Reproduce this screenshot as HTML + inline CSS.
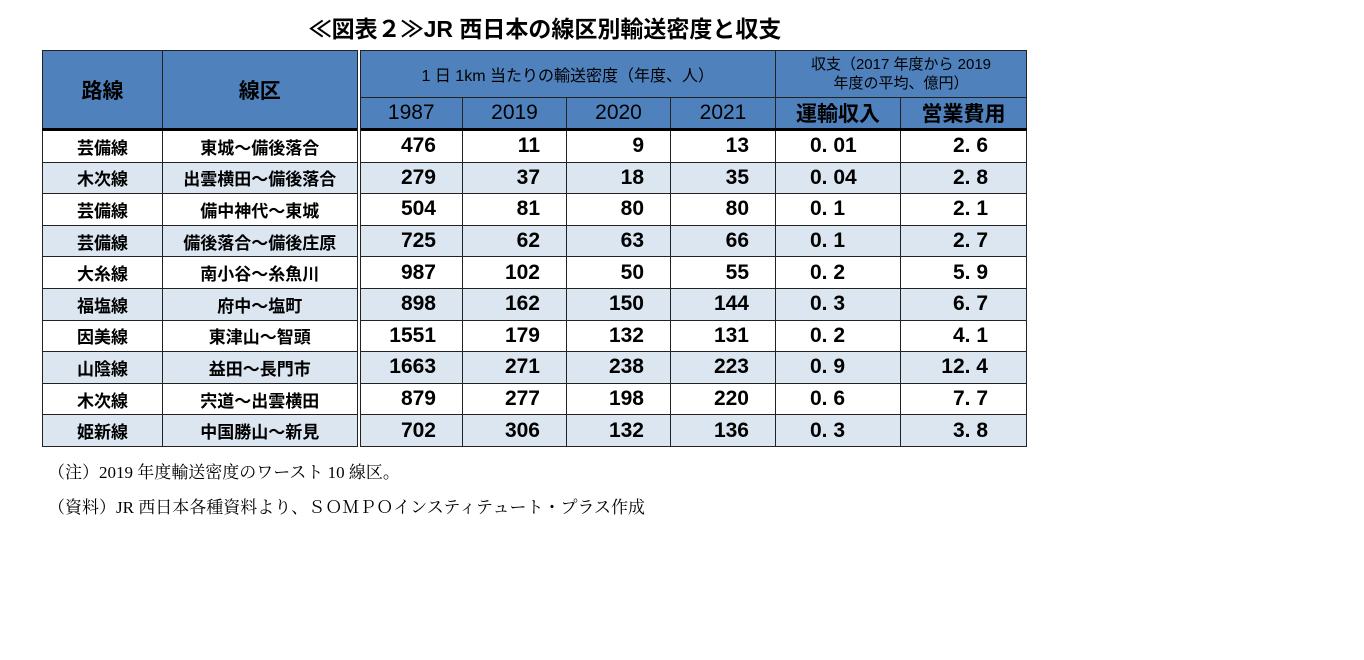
<!DOCTYPE html>
<html><head><meta charset="utf-8">
<style>
body{margin:0;width:1364px;height:660px;background:#fff;position:relative;overflow:hidden;font-family:"Liberation Sans","Noto Sans CJK JP",sans-serif;}
.title{position:absolute;left:0;width:1090px;top:10px;text-align:center;font-size:23px;font-weight:bold;color:#000;}
table{position:absolute;left:42px;top:50px;border-collapse:collapse;table-layout:fixed;}
td{border:1px solid #222;padding:0;font-weight:bold;color:#000;text-align:center;overflow:hidden;white-space:nowrap;}
thead td{background:#4f81bd;}
.h1 td{height:46px;}
.h2 td{height:30px;font-size:21px;}
.big{font-size:21px;}
.sm{font-size:15px;font-weight:normal;line-height:19px;}
tbody td{height:30.6px;font-size:17px;}
tbody tr:first-child td{border-top:3px solid #000;}
tbody tr:nth-child(even) td{background:#dce6f1;}
.n{font-size:21px;text-align:right;padding-right:26px;}
.r{font-size:21px;text-align:center;}
.dbl{border-left:4px double #222;}
.note{position:absolute;left:48px;font-family:"Liberation Serif","Noto Serif CJK SC",serif;font-size:17px;color:#000;}
</style></head><body>
<div class="title">≪図表２≫JR 西日本の線区別輸送密度と収支</div>
<table>
<colgroup><col style="width:120px"><col style="width:196px"><col style="width:104px"><col style="width:104px"><col style="width:104px"><col style="width:105px"><col style="width:125px"><col style="width:126px"></colgroup>
<thead>
<tr class="h1">
<td rowspan="2" class="big">路線</td>
<td rowspan="2" class="big">線区</td>
<td colspan="4" class="dbl" style="font-size:16px;font-weight:normal">1 日 1km 当たりの輸送密度（年度、人）</td>
<td colspan="2" class="sm">収支（2017 年度から 2019<br>年度の平均、億円）</td>
</tr>
<tr class="h2">
<td class="dbl" style="font-weight:normal">1987</td>
<td style="font-weight:normal">2019</td>
<td style="font-weight:normal">2020</td>
<td style="font-weight:normal">2021</td>
<td>運輸収入</td>
<td>営業費用</td>
</tr>
</thead>
<tbody id="tb"></tbody>
</table>
<div class="note" style="top:458px">（注）2019 年度輸送密度のワースト 10 線区。</div>
<div class="note" style="top:493px">（資料）JR 西日本各種資料より、ＳＯＭＰＯインスティテュート・プラス作成</div>
<script>
const routes=["芸備線","木次線","芸備線","芸備線","大糸線","福塩線","因美線","山陰線","木次線","姫新線"];
const sections=["東城～備後落合","出雲横田～備後落合","備中神代～東城","備後落合～備後庄原","南小谷～糸魚川","府中～塩町","東津山～智頭","益田～長門市","宍道～出雲横田","中国勝山～新見"];
const d1987=[476,279,504,725,987,898,1551,1663,879,702];
const d2019=[11,37,81,62,102,162,179,271,277,306];
const d2020=[9,18,80,63,50,150,132,238,198,132];
const d2021=[13,35,80,66,55,144,131,223,220,136];
const revenue=["0.01","0.04","0.1","0.1","0.2","0.3","0.2","0.9","0.6","0.3"];
const expense=["2.6","2.8","2.1","2.7","5.9","6.7","4.1","12.4","7.7","3.8"];
const tb=document.getElementById('tb');
function cell(tr,txt,cls,name){const td=document.createElement('td');td.textContent=txt;if(cls)td.className=cls;


tr.appendChild(td);return td;}
for(let i=0;i<routes.length;i++){
const tr=document.createElement('tr');


cell(tr,routes[i],'','route-cell');
cell(tr,sections[i],'','section-cell');
cell(tr,d1987[i],'n dbl','density-1987');
cell(tr,d2019[i],'n','density-2019');
cell(tr,d2020[i],'n','density-2020');
cell(tr,d2021[i],'n','density-2021');
const r=cell(tr,revenue[i].replace('.','. '),'r','revenue-cell');r.style.textAlign='left';r.style.paddingLeft='34px';
const e=cell(tr,expense[i].replace('.','. '),'n','expense-cell');e.style.paddingRight='38px';
tb.appendChild(tr);}
</script>
</body></html>
